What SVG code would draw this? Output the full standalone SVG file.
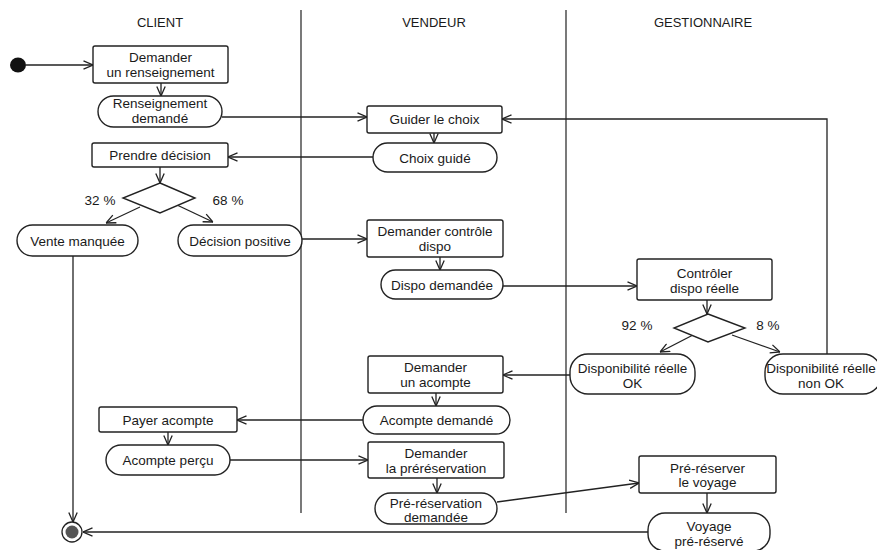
<svg xmlns="http://www.w3.org/2000/svg" width="877" height="550" viewBox="0 0 877 550">
<style>
.lane{stroke:#222;stroke-width:1.2;fill:none}
.act{fill:#fff;stroke:#222;stroke-width:1.4}
.obj{fill:#fff;stroke:#222;stroke-width:1.4}
.t{font-family:"Liberation Sans",Arial,sans-serif;font-size:13.5px;fill:#1a1a1a;text-anchor:middle}
.h{font-family:"Liberation Sans",Arial,sans-serif;font-size:13px;fill:#1a1a1a;text-anchor:middle}
.c{stroke:#222;stroke-width:1.3;fill:none;marker-end:url(#arr)}
</style>
<defs>
<marker id="arr" viewBox="0 0 10 10" refX="10" refY="5" markerWidth="10" markerHeight="10" markerUnits="userSpaceOnUse" orient="auto">
<path d="M0.5,0.8 L10,5 L0.5,9.2" fill="none" stroke="#222" stroke-width="1.3"/>
</marker>
</defs>
<rect width="877" height="550" fill="#fff"/>
<g id="lanes">
<path class="lane" d="M301,10 L301,513 M566,10 L566,513"/>
<text class="h" x="160" y="26.5">CLIENT</text>
<text class="h" x="434" y="26.5">VENDEUR</text>
<text class="h" x="703" y="26.5">GESTIONNAIRE</text>
</g>
<g id="connectors">
<path class="c" d="M26,65 L93,65"/>
<path class="c" d="M161,83 L161,96"/>
<path class="c" d="M222,117 L367,117"/>
<path class="c" d="M434,133 L434,143"/>
<path class="c" d="M373,157 L228,157"/>
<path class="c" d="M160,167 L160,183"/>
<path class="c" d="M140,207 L106,223"/>
<path class="c" d="M177,205 L213,222"/>
<path class="c" d="M73,256 L73,522"/>
<path class="c" d="M302,239 L367,239"/>
<path class="c" d="M440,257 L440,270"/>
<path class="c" d="M503,286 L637,286"/>
<path class="c" d="M707,300 L707,314"/>
<path class="c" d="M693,335 L660,352"/>
<path class="c" d="M732,335 L780,352"/>
<path class="c" d="M827,354 L827,119 L502,119"/>
<path class="c" d="M570,375 L503,375"/>
<path class="c" d="M436,393 L436,406"/>
<path class="c" d="M363,420 L237,420"/>
<path class="c" d="M168,432 L168,445"/>
<path class="c" d="M230,460 L368,460"/>
<path class="c" d="M437,478 L437,493"/>
<path class="c" d="M497,502 L639,483"/>
<path class="c" d="M707,493 L707,513"/>
<path class="c" d="M648,532 L83,532"/>
</g>
<g id="start"><ellipse cx="18" cy="65" rx="8" ry="7.5" fill="#111"/></g>
<g id="n1"><rect class="act" x="93" y="46" width="135" height="37" rx="2"/><text class="t" x="160.5" y="62">Demander</text><text class="t" x="160.5" y="77">un renseignement</text></g>
<g id="n2"><rect class="obj" x="98" y="96" width="124" height="31" rx="15.5"/><text class="t" x="160" y="108">Renseignement</text><text class="t" x="160" y="122.5">demandé</text></g>
<g id="n3"><rect class="act" x="367" y="106" width="135" height="27" rx="2"/><text class="t" x="434.5" y="124">Guider le choix</text></g>
<g id="n4"><rect class="obj" x="373" y="143" width="124" height="29" rx="14.5"/><text class="t" x="435" y="162.5">Choix guidé</text></g>
<g id="n5"><rect class="act" x="92" y="143" width="136" height="24" rx="2"/><text class="t" x="160" y="160">Prendre décision</text></g>
<g id="d1"><polygon class="act" points="160,183 195,198 160,213 123,198"/><text class="t" x="100" y="205">32 %</text><text class="t" x="228" y="205">68 %</text></g>
<g id="n6"><rect class="obj" x="17" y="225" width="121" height="31" rx="15.5"/><text class="t" x="77.5" y="245.5">Vente manquée</text></g>
<g id="n7"><rect class="obj" x="178" y="225" width="124" height="31" rx="15.5"/><text class="t" x="240" y="245.5">Décision positive</text></g>
<g id="n8"><rect class="act" x="367" y="220" width="136" height="37" rx="2"/><text class="t" x="435" y="236">Demander contrôle</text><text class="t" x="435" y="250.5">dispo</text></g>
<g id="n9"><rect class="obj" x="381" y="270" width="122" height="29" rx="14.5"/><text class="t" x="442" y="289.5">Dispo demandée</text></g>
<g id="n10"><rect class="act" x="637" y="259" width="135" height="41" rx="2"/><text class="t" x="704.5" y="278">Contrôler</text><text class="t" x="704.5" y="293">dispo réelle</text></g>
<g id="d2"><polygon class="act" points="708,314 745,328 708,342 674,328"/><text class="t" x="637" y="330">92 %</text><text class="t" x="768" y="330">8 %</text></g>
<g id="n11"><rect class="obj" x="570" y="354" width="125" height="40" rx="18"/><text class="t" x="632.5" y="372.5">Disponibilité réelle</text><text class="t" x="632.5" y="387.5">OK</text></g>
<g id="n12"><rect class="obj" x="765" y="354" width="116" height="40" rx="18"/><text class="t" x="821" y="372.5">Disponibilité réelle</text><text class="t" x="821" y="387.5">non OK</text></g>
<g id="n13"><rect class="act" x="368" y="356" width="135" height="37" rx="2"/><text class="t" x="435.5" y="371.5">Demander</text><text class="t" x="435.5" y="386.5">un acompte</text></g>
<g id="n14"><rect class="obj" x="363" y="406" width="147" height="28" rx="14"/><text class="t" x="436.5" y="425">Acompte demandé</text></g>
<g id="n15"><rect class="act" x="99" y="407" width="138" height="25" rx="2"/><text class="t" x="168" y="424.5">Payer acompte</text></g>
<g id="n16"><rect class="obj" x="106" y="445" width="124" height="30" rx="15"/><text class="t" x="168" y="464.5">Acompte perçu</text></g>
<g id="n17"><rect class="act" x="368" y="442" width="136" height="36" rx="2"/><text class="t" x="436" y="457.5">Demander</text><text class="t" x="436" y="472.5">la préréservation</text></g>
<g id="n18"><rect class="obj" x="375" y="493" width="122" height="31" rx="15.5"/><text class="t" x="436" y="507.5">Pré-réservation</text><text class="t" x="436" y="522">demandée</text></g>
<g id="n19"><rect class="act" x="639" y="456" width="137" height="37" rx="2"/><text class="t" x="707.5" y="472.5">Pré-réserver</text><text class="t" x="707.5" y="487">le voyage</text></g>
<g id="n20"><rect class="obj" x="648" y="513" width="122" height="38" rx="17"/><text class="t" x="709" y="530.5">Voyage</text><text class="t" x="709" y="545.5">pré-réservé</text></g>
<g id="final"><circle cx="72" cy="532" r="10" fill="#fff" stroke="#222" stroke-width="1.3"/><circle cx="72" cy="532" r="6.5" fill="#555"/></g>
</svg>
